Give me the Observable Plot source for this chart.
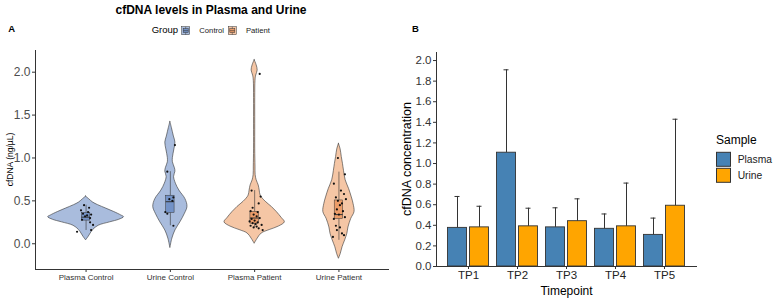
<!DOCTYPE html>
<html><head><meta charset="utf-8">
<script src="https://cdn.jsdelivr.net/npm/d3@7"></script>
<script src="https://cdn.jsdelivr.net/npm/@observablehq/plot@0.6"></script>
<style>
body{margin:0;background:#fff;}
#wrap{position:relative;width:775px;height:300px;font-family:"Liberation Sans",Arial,sans-serif;overflow:hidden;}
#wrap > svg{position:absolute;top:0;}
</style></head><body><div id="wrap"></div>
<script>
// ---------- Panel A data ----------
const categoriesA = ["Plasma Control", "Urine Control", "Plasma Patient", "Urine Patient"];
const groupA = ["Control", "Control", "Patient", "Patient"];
// violin profiles: [value, half-width in category units]
const violinPlasmaControl = [[0.55,0],[0.52,0.036],[0.48,0.084],[0.45,0.143],[0.41,0.239],[0.37,0.334],[0.33,0.418],[0.31,0.45],[0.28,0.394],[0.25,0.286],[0.21,0.149],[0.16,0.084],[0.12,0.055],[0.08,0.03],[0.04,0]];
const violinUrineControl = [[1.42,0],[1.35,0.018],[1.25,0.042],[1.18,0.06],[1.10,0.048],[1.00,0.03],[0.95,0.03],[0.88,0.054],[0.84,0.06],[0.78,0.044],[0.70,0.066],[0.62,0.107],[0.52,0.179],[0.43,0.203],[0.35,0.173],[0.25,0.119],[0.155,0.06],[0.06,0.024],[-0.05,0]];
const violinPlasmaPatient = [[2.14,0],[2.08,0.024],[2.02,0.036],[1.96,0.018],[1.90,0.01],[1.70,0.007],[1.40,0.007],[1.10,0.007],[0.90,0.01],[0.80,0.012],[0.74,0.024],[0.68,0.048],[0.62,0.06],[0.56,0.072],[0.49,0.131],[0.43,0.203],[0.37,0.263],[0.30,0.322],[0.25,0.358],[0.20,0.286],[0.16,0.179],[0.12,0.084],[0.06,0.036],[0.00,0]];
const violinUrinePatient = [[1.165,0],[1.10,0.02],[1.01,0.034],[0.93,0.048],[0.85,0.06],[0.74,0.08],[0.64,0.12],[0.54,0.153],[0.466,0.173],[0.37,0.185],[0.29,0.146],[0.19,0.113],[0.117,0.1],[0.04,0.074],[-0.04,0.043],[-0.117,0.022],[-0.175,0]];
// boxplot statistics
const boxLower  = [0.155, 0.21, 0.19, 0.04];
const boxQ1     = [0.27, 0.36, 0.235, 0.29];
const boxMedian = [0.31, 0.49, 0.30, 0.34];
const boxQ3     = [0.36, 0.56, 0.37, 0.505];
const boxUpper  = [0.45, 0.84, 0.62, 0.835];
// jittered points: [value, jitter in category units]
const pointsPlasmaControl = [[0.45,-0.024],[0.42,0.036],[0.39,-0.06],[0.37,0.024],[0.35,-0.036],[0.34,0.06],[0.33,0.012],[0.32,-0.012],[0.30,0.048],[0.28,-0.048],[0.25,0.048],[0.22,0.083],[0.16,0.06],[0.14,-0.107]];
const pointsUrineControl = [[1.15,0.054],[0.84,-0.036],[0.54,0.036],[0.52,-0.012],[0.50,0.024],[0.37,-0.06],[0.35,-0.036],[0.21,0.036]];
const pointsPlasmaPatient = [[1.98,0.06],[0.62,-0.036],[0.55,0.071],[0.47,0.048],[0.42,-0.024],[0.38,-0.048],[0.37,0.036],[0.34,-0.012],[0.32,0.024],[0.30,0.06],[0.29,-0.036],[0.27,0],[0.26,-0.06],[0.25,0.036],[0.24,-0.024],[0.23,0.012],[0.22,0.083],[0.21,-0.048],[0.20,0.024],[0.19,-0.012],[0.18,0.048],[0.16,0.095]];
const pointsUrinePatient = [[1.00,-0.012],[0.81,0.071],[0.70,-0.06],[0.62,0.024],[0.58,0.06],[0.54,-0.036],[0.52,0.083],[0.50,-0.012],[0.47,0.036],[0.45,0.012],[0.40,-0.024],[0.38,0.048],[0.35,-0.048],[0.34,0],[0.31,0.071],[0.29,-0.06],[0.21,-0.036],[0.19,0.012],[0.16,-0.024],[0.12,0.036],[0.10,0.06],[0.08,-0.071]];
const yTicksA = [0, 0.5, 1.0, 1.5, 2.0];

// ---------- Panel B data ----------
const timepoints = ["TP1", "TP2", "TP3", "TP4", "TP5"];
const plasmaMean  = [0.375, 1.105, 0.38, 0.366, 0.307];
const plasmaUpper = [0.68, 1.91, 0.57, 0.51, 0.47];
const urineMean   = [0.38, 0.39, 0.44, 0.39, 0.59];
const urineUpper  = [0.585, 0.566, 0.657, 0.81, 1.43];
const yTicksB = [0, 0.2, 0.4, 0.6, 0.8, 1.0, 1.2, 1.4, 1.6, 1.8, 2.0];

// ---------- styling ----------
const FONT = "Liberation Sans, Arial, sans-serif";
const col = {controlViolin: "#a9bcdd", controlBox: "#7392c7", patientViolin: "#f5c6a5", patientBox: "#ec9c68",
             plasma: "#4682B4", urine: "#FFA500", outline: "#333333"};

// ---------- Panel A ----------
const violinsA = [violinPlasmaControl, violinUrineControl, violinPlasmaPatient, violinUrinePatient];
const pointsA = [pointsPlasmaControl, pointsUrineControl, pointsPlasmaPatient, pointsUrinePatient];
const violinRows = categoriesA.flatMap((cat, i) => violinsA[i].map(([v, hw]) => ({cat, group: groupA[i], v, lo: i + 1 - hw, hi: i + 1 + hw})));
const boxRows = categoriesA.map((cat, i) => ({cat, group: groupA[i], c: i + 1, lo: boxLower[i], q1: boxQ1[i], med: boxMedian[i], q3: boxQ3[i], hi: boxUpper[i]}));
const pointRows = categoriesA.flatMap((cat, i) => pointsA[i].map(([v, j]) => ({v, x: i + 1 + j})));
const xDomainA = [0.4, 4.6];
const yDomainA = [-0.3, 2.253];
const boxHalf = 0.05;

const violinMark = g => Plot.areaX(violinRows.filter(d => d.group === g), {
  y: "v", x1: "lo", x2: "hi", z: "cat", curve: "catmull-rom",
  fill: g === "Control" ? col.controlViolin : col.patientViolin, stroke: col.outline, strokeWidth: 0.6});
const boxMark = g => Plot.rect(boxRows.filter(d => d.group === g), {
  x1: d => d.c - boxHalf, x2: d => d.c + boxHalf, y1: "q1", y2: "q3",
  fill: g === "Control" ? col.controlBox : col.patientBox, stroke: col.outline, strokeWidth: 0.5});

const panelA = Plot.plot({
  width: 400, height: 300,
  marginLeft: 35, marginRight: 11, marginTop: 50, marginBottom: 31,
  style: {fontFamily: FONT, background: "transparent", overflow: "visible"},
  x: {domain: xDomainA, label: null},
  y: {domain: yDomainA, label: null},
  marks: [
    violinMark("Control"), violinMark("Patient"),
    Plot.ruleX(boxRows, {x: "c", y1: "lo", y2: "q1", stroke: col.outline, strokeWidth: 0.6}),
    Plot.ruleX(boxRows, {x: "c", y1: "q3", y2: "hi", stroke: col.outline, strokeWidth: 0.6}),
    boxMark("Control"), boxMark("Patient"),
    Plot.ruleY(boxRows, {y: "med", x1: d => d.c - boxHalf, x2: d => d.c + boxHalf, stroke: col.outline, strokeWidth: 1}),
    Plot.dot(pointRows, {x: "x", y: "v", r: 1.1, fill: "#111", stroke: null}),
    Plot.ruleX([xDomainA[0]], {stroke: "#000", strokeWidth: 0.8}),
    Plot.ruleY([yDomainA[0]], {stroke: "#000", strokeWidth: 0.8}),
    Plot.axisY({ticks: yTicksA, tickFormat: d3.format(".1f"), tickSize: 3, tickPadding: 2, fontSize: 12, stroke: "#333", fill: "#4d4d4d", label: null}),
    Plot.axisX({ticks: [1, 2, 3, 4], tickFormat: i => categoriesA[i - 1], tickSize: 3, tickPadding: 2, fontSize: 8, stroke: "#333", fill: "#333", label: null})
  ]
});

// ---------- Panel B ----------
const plasmaRows = timepoints.map((tp, i) => ({tp, mean: plasmaMean[i], upper: plasmaUpper[i]}));
const urineRows = timepoints.map((tp, i) => ({tp, mean: urineMean[i], upper: urineUpper[i]}));
const yDomainB = [0, 2.078];

const panelB = Plot.plot({
  width: 300, height: 300,
  marginLeft: 36, marginRight: 3, marginTop: 52, marginBottom: 34,
  style: {fontFamily: FONT, background: "transparent", overflow: "visible"},
  x: {domain: timepoints, paddingInner: 0.1, paddingOuter: 0.16, label: null},
  y: {domain: yDomainB, label: null},
  marks: [
    Plot.barY(plasmaRows, {x: "tp", y: "mean", fill: col.plasma, stroke: col.outline, strokeWidth: 0.9, insetLeft: 1.5, insetRight: 23.5}),
    Plot.barY(urineRows, {x: "tp", y: "mean", fill: col.urine, stroke: col.outline, strokeWidth: 0.9, insetLeft: 23.5, insetRight: 1.5}),
    Plot.ruleX(plasmaRows, {x: "tp", y1: "mean", y2: "upper", dx: -11, stroke: col.outline, strokeWidth: 1}),
    Plot.ruleX(urineRows, {x: "tp", y1: "mean", y2: "upper", dx: 11, stroke: col.outline, strokeWidth: 1}),
    Plot.tickY(plasmaRows, {x: "tp", y: "upper", dx: -11, insetLeft: 19.5, insetRight: 19.5, stroke: col.outline, strokeWidth: 1}),
    Plot.tickY(urineRows, {x: "tp", y: "upper", dx: 11, insetLeft: 19.5, insetRight: 19.5, stroke: col.outline, strokeWidth: 1}),
    Plot.ruleY([0], {stroke: col.outline, strokeWidth: 1}),
    Plot.frame({anchor: "left", stroke: col.outline, strokeWidth: 1}),
    Plot.axisY({ticks: yTicksB, tickFormat: d3.format(".1f"), tickSize: 3, tickPadding: 2, fontSize: 11.5, stroke: "#333", fill: "#333", label: null}),
    Plot.axisX({tickSize: 3, tickPadding: 1, fontSize: 11.5, stroke: "#333", fill: "#222", label: null})
  ]
});

const wrap = document.getElementById("wrap");
panelA.style.left = "0px";
panelB.style.left = "400px";
wrap.appendChild(panelA);
wrap.appendChild(panelB);

// ---------- titles, axis titles & legends ----------
const ov = d3.select(wrap).append("svg")
  .attr("width", 775).attr("height", 300)
  .style("left", "0px").style("pointer-events", "none")
  .style("font-family", FONT);

const txt = (x, y, s, size, opts = {}) => {
  const t = ov.append("text").attr("x", x).attr("y", y).text(s)
    .attr("font-size", size).attr("fill", opts.fill || "#000")
    .attr("text-anchor", opts.anchor || "start")
    .attr("font-weight", opts.bold ? "bold" : "normal");
  if (opts.rotate) t.attr("transform", `rotate(-90,${x},${y})`).attr("dominant-baseline", "central");
  return t;
};

txt(211, 13.5, "cfDNA levels in Plasma and Urine", 12, {anchor: "middle", bold: true});
txt(8.3, 31.7, "A", 9.5, {bold: true});
txt(412, 31.7, "B", 9.5, {bold: true});
txt(10, 159.5, "cfDNA (ng/µL)", 8.5, {anchor: "middle", rotate: true});
txt(406.5, 159, "cfDNA concentration", 12.5, {anchor: "middle", rotate: true});
txt(566.5, 294.5, "Timepoint", 12, {anchor: "middle"});

// Group legend (panel A)
txt(151.7, 33.3, "Group", 9.5);
const legendGroups = [["Control", 181.7, col.controlViolin, col.controlBox], ["Patient", 228.3, col.patientViolin, col.patientBox]];
legendGroups.forEach(([label, x, cv, cb]) => {
  const g = ov.append("g");
  g.append("rect").attr("x", x).attr("y", 26.7).attr("width", 8).attr("height", 8).attr("fill", cv).attr("stroke", col.outline).attr("stroke-width", 0.5);
  g.append("rect").attr("x", x + 1.5).attr("y", 28.7).attr("width", 5).attr("height", 4).attr("fill", cb).attr("stroke", col.outline).attr("stroke-width", 0.5);
  g.append("line").attr("x1", x + 1.5).attr("x2", x + 6.5).attr("y1", 30.7).attr("y2", 30.7).attr("stroke", col.outline).attr("stroke-width", 0.6);
  g.append("line").attr("x1", x + 4).attr("x2", x + 4).attr("y1", 26.7).attr("y2", 28.7).attr("stroke", col.outline).attr("stroke-width", 0.5);
  g.append("line").attr("x1", x + 4).attr("x2", x + 4).attr("y1", 32.7).attr("y2", 34.7).attr("stroke", col.outline).attr("stroke-width", 0.5);
  txt(x + 17.6, 33.3, label, 7.7, {fill: "#222"});
});

// Sample legend (panel B)
txt(716, 143.5, "Sample", 12);
const legendSamples = [["Plasma", col.plasma, 152.3], ["Urine", col.urine, 168.3]];
legendSamples.forEach(([label, c, y]) => {
  ov.append("rect").attr("x", 716.5).attr("y", y).attr("width", 14).attr("height", 14).attr("fill", c).attr("stroke", col.outline).attr("stroke-width", 1);
  txt(737.7, y + 10.9, label, 10.3, {fill: "#222"});
});
</script></body></html>
